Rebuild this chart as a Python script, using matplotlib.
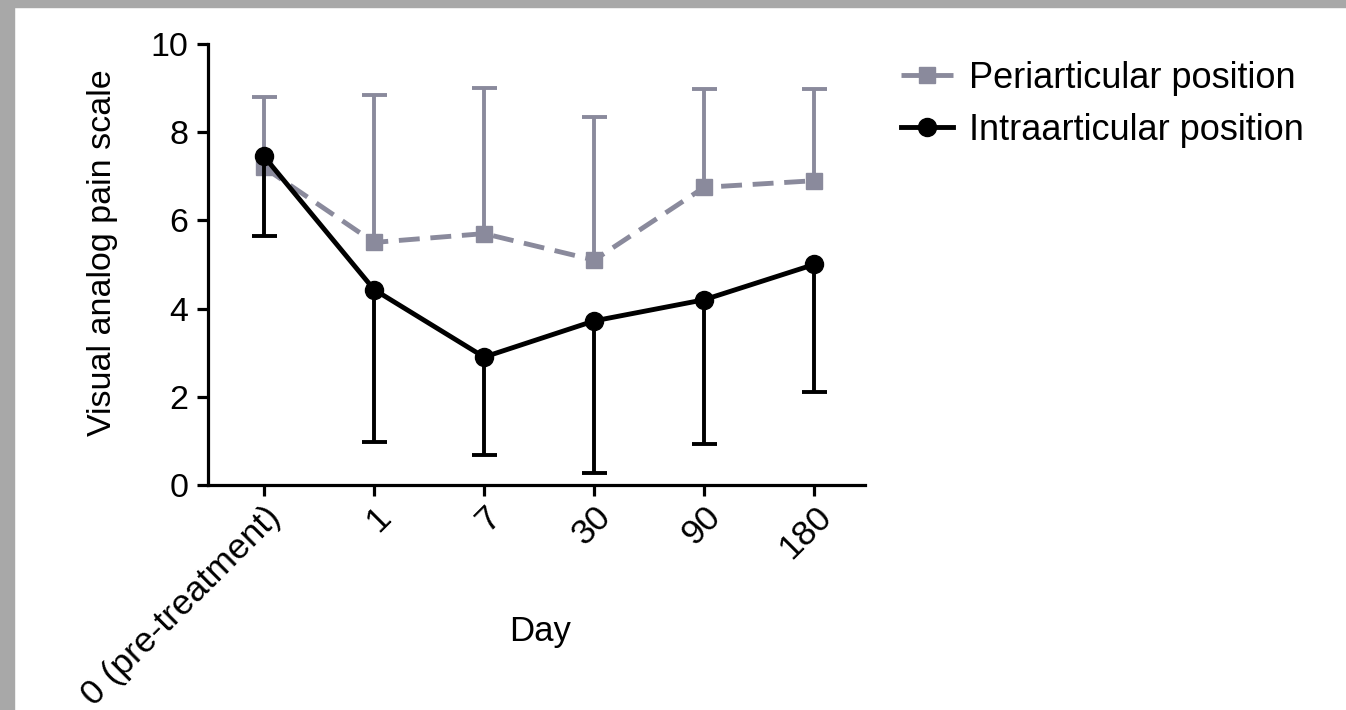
import matplotlib
matplotlib.use("Agg")
import matplotlib.pyplot as plt
from matplotlib.patches import Rectangle
import numpy as np

plt.rcParams['font.family'] = ['Liberation Sans', 'DejaVu Sans']

days = ['0 (pre-treatment)', '1', '7', '30', '90', '180']
peri_mean = [7.2, 5.5, 5.7, 5.1, 6.75, 6.9]
peri_upper = [8.8, 8.85, 9.0, 8.35, 8.98, 8.98]
intra_mean = [7.45, 4.43, 2.9, 3.72, 4.2, 5.0]
intra_lower = [5.65, 0.97, 0.68, 0.28, 0.92, 2.1]

GRAY = '#8a8a9c'
BLACK = '#000000'
FS = 24.5

fig = plt.figure(figsize=(13.46, 7.10), dpi=100)
ax = fig.add_axes([0.1545, 0.317, 0.488, 0.621])

x = np.arange(len(days))
peri_err = [np.zeros(len(x)), np.array(peri_upper) - np.array(peri_mean)]
intra_err = [np.array(intra_mean) - np.array(intra_lower), np.zeros(len(x))]

# one-sided error bars: hide the cap on the zero side
eb = ax.errorbar(x, peri_mean, yerr=peri_err, fmt='none', ecolor=GRAY, elinewidth=2.8,
                 capsize=9, capthick=2.8, zorder=1)
eb[1][0].set_visible(False)
eb = ax.errorbar(x, intra_mean, yerr=intra_err, fmt='none', ecolor=BLACK, elinewidth=2.8,
                 capsize=9, capthick=2.8, zorder=3)
eb[1][1].set_visible(False)

ax.plot(x, peri_mean, color=GRAY, lw=3.5, dashes=(4.3, 2.2), marker='s', ms=12,
        label='Periarticular position', zorder=2)
ax.plot(x, intra_mean, color=BLACK, lw=3.5, marker='o', ms=13,
        label='Intraarticular position', zorder=4)

ax.set_xlim(-0.51, 5.46)
ax.set_ylim(0, 10)
ax.set_yticks([0, 2, 4, 6, 8, 10])
ax.set_xticks(x)
ax.set_xticklabels(days, rotation=45, ha='right', rotation_mode='anchor')

for s in ['top', 'right']:
    ax.spines[s].set_visible(False)
for s in ['left', 'bottom']:
    ax.spines[s].set_linewidth(2.3)
ax.tick_params(axis='both', width=2.3, length=8, labelsize=FS, pad=6)
ax.tick_params(axis='x', pad=3, labelsize=25.5)

ax.set_ylabel('Visual analog pain scale', fontsize=FS)
ax.yaxis.set_label_coords(-0.137, 0.527)
ax.set_xlabel('Day', fontsize=25)
ax.xaxis.set_label_coords(0.505, -0.295)

handles, labels = ax.get_legend_handles_labels()
leg = fig.legend(handles, labels, loc='upper left', bbox_to_anchor=(0.645, 0.96),
                 frameon=False, fontsize=26, handlelength=1.45, handletextpad=0.45,
                 labelspacing=0.46)

# gray picture frame on the top and left edges
fig.patches.append(Rectangle((0, 0), 14 / 1346, 1, transform=fig.transFigure,
                             color='#a8a8a8', zorder=-1))
fig.patches.append(Rectangle((0, 1 - 7 / 710), 1, 7 / 710, transform=fig.transFigure,
                             color='#a8a8a8', zorder=-1))

fig.savefig('out.png', dpi=100)
